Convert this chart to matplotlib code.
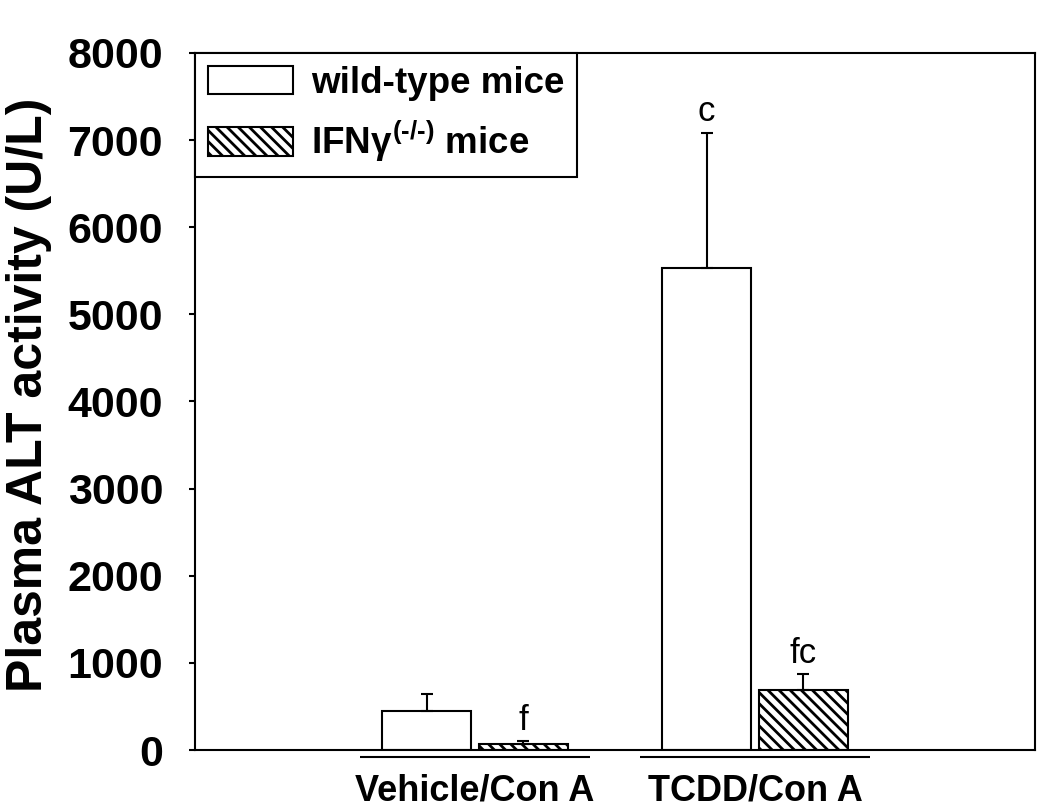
import matplotlib
matplotlib.use("Agg")
import matplotlib.pyplot as plt
import numpy as np

# ---- data ----
categories = ["Vehicle/Con A", "TCDD/Con A"]
series_names = ["wild-type mice", "IFN$\\gamma^{\\text{(-/-)}}$ mice"]
wt_mean = [450, 5530]
wt_err = [190, 1550]
ko_mean = [65, 690]
ko_err = [35, 180]
wt_annot = ["", "c"]
ko_annot = ["f", "fc"]
yticks = [0, 1000, 2000, 3000, 4000, 5000, 6000, 7000, 8000]

plt.rcParams["font.family"] = ["Liberation Sans", "DejaVu Sans"]
plt.rcParams["mathtext.fontset"] = "custom"
plt.rcParams["mathtext.rm"] = "Liberation Sans:bold"
plt.rcParams["mathtext.bf"] = "Liberation Sans:bold"
plt.rcParams["mathtext.it"] = "Liberation Sans:bold"
plt.rcParams["hatch.linewidth"] = 2.0

fig = plt.figure(figsize=(10.5, 8.11), dpi=100)
ax = fig.add_axes([195 / 1050, 1 - 750 / 811, 840 / 1050, 697 / 811])

x = np.arange(1, len(categories) + 1)
w = 0.32
off = 0.173

ax.bar(x - off, wt_mean, w, color="white", edgecolor="black", linewidth=1.5,
       label=series_names[0], zorder=2)
ax.bar(x + off, ko_mean, w, color="white", edgecolor="black", linewidth=1.5,
       hatch="\\\\\\", label=series_names[1], zorder=2)

ax.errorbar(x - off, wt_mean, yerr=[np.zeros(len(x)), wt_err], fmt="none",
            ecolor="black", elinewidth=1.5, capsize=4, capthick=1.5, zorder=3)
ax.errorbar(x + off, ko_mean, yerr=[np.zeros(len(x)), ko_err], fmt="none",
            ecolor="black", elinewidth=1.5, capsize=4, capthick=1.5, zorder=3)

for xi, m, e, t in zip(x - off, wt_mean, wt_err, wt_annot):
    if t:
        ax.annotate(t, (xi, m + e), xytext=(0, 9), textcoords="offset points",
                    ha="center", va="baseline", fontsize=25)
for xi, m, e, t in zip(x + off, ko_mean, ko_err, ko_annot):
    if t:
        ax.annotate(t, (xi, m + e), xytext=(0, 8), textcoords="offset points",
                    ha="center", va="baseline", fontsize=25)

# group underline below axis
for xi in x:
    ax.plot([xi - 0.41, xi + 0.41], [-80, -80], color="black", lw=1.5,
            clip_on=False, solid_capstyle="butt")

ax.set_xlim(0, 3)
ax.set_ylim(0, 8000)
ax.set_yticks(yticks)
ax.set_yticklabels([str(v) for v in yticks], fontsize=31, fontweight="bold")
ax.set_xticks(x)
ax.set_xticklabels(categories, fontsize=26, fontweight="bold")
ax.tick_params(axis="x", length=0, pad=17)
ax.tick_params(axis="y", direction="out", length=4, width=1.5, pad=19)

for s in ax.spines.values():
    s.set_linewidth(1.5)

ax.set_ylabel("Plasma ALT activity (U/L)", fontsize=36, fontweight="bold")
ax.yaxis.set_label_coords(-0.17, 0.51)

leg = ax.legend(loc="upper left", bbox_to_anchor=(0, 1), borderaxespad=0,
                prop={"size": 26.5, "weight": "bold"}, frameon=True, fancybox=False,
                edgecolor="black", framealpha=1, borderpad=0.35, labelspacing=0.5,
                handlelength=2.3, handleheight=0.8, handletextpad=0.5)
leg.get_frame().set_linewidth(1.5)

fig.savefig("out.png", dpi=100)
